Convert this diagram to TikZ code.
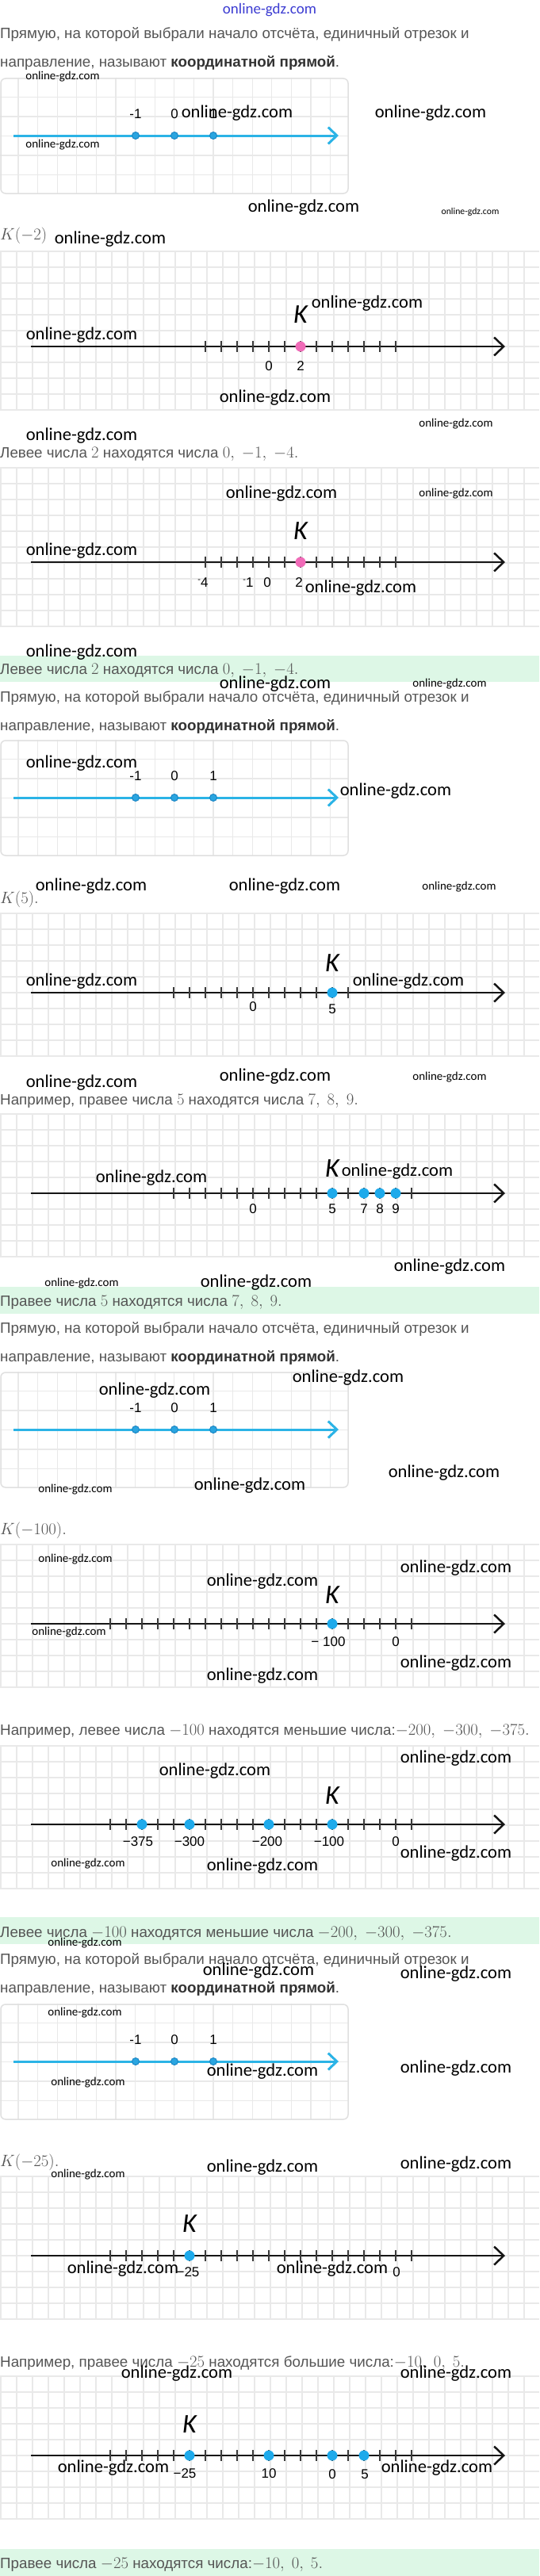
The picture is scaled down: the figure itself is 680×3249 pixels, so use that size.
\documentclass[tikz,border=0pt]{standalone}
\usepackage{fontspec}
\setmainfont{Liberation Sans}
\newfontfamily\wmfont{Carlito}
\usetikzlibrary{arrows.meta}
\definecolor{txtc}{HTML}{555555}
\definecolor{boldc}{HTML}{333333}
\definecolor{gridc}{HTML}{E9E9E9}
\definecolor{sbord}{HTML}{E0E0E0}
\definecolor{bluax}{HTML}{2BB3E6}
\definecolor{bdfill}{HTML}{2AA5E0}
\definecolor{bddraw}{HTML}{1C86C4}
\definecolor{ptblue}{HTML}{1EAAEB}
\definecolor{ptpink}{HTML}{F06BB8}
\definecolor{bandc}{HTML}{DDF7E6}
\definecolor{tickc}{HTML}{3A3A3A}
\definecolor{axc}{HTML}{151515}
\definecolor{hdrc}{HTML}{3C3CD2}
\newcommand\mth[1]{{\fontsize{20}{24}\selectfont$#1$}}
\newcommand\kmth[1]{{\fontsize{21.5}{24}\selectfont$#1$}}
\newcommand\rmin{\raisebox{0.35em}{\fontsize{11}{11}\selectfont -}}
\tikzset{
 sgrid/.style={draw=gridc, line width=1.2pt},
 bgrid/.style={draw=gridc, line width=1.2pt},
 sbox/.style={draw=sbord, line width=1.5pt, rounded corners=6pt},
 blueaxis/.style={draw=bluax, line width=3pt, -{Straight Barb[length=11pt,width=21pt]}},
 baxis/.style={draw=axc, line width=2.5pt, -{Straight Barb[length=12pt,width=23pt]}},
 tk/.style={draw=tickc, line width=2.5pt},
 bdot/.style={circle, fill=bdfill, draw=bddraw, line width=1pt, minimum size=9pt, inner sep=0pt},
 pdot/.style={circle, fill=#1, minimum size=13pt, inner sep=0pt},
 lbl/.style={font=\fontsize{17}{20}\selectfont, text=black, inner sep=0pt},
 klbl/.style={font=\wmfont\itshape\fontsize{34}{36}\selectfont, text=black, inner sep=0pt},
 body/.style={font=\fontsize{18.8}{21}\selectfont, text=txtc, anchor=base west, inner sep=0pt},
 band/.style={fill=bandc},
 wmL/.style={font=\wmfont\fontsize{22.6}{24}\selectfont, text=black, inner sep=0pt},
 wmM/.style={font=\wmfont\fontsize{15}{16}\selectfont, text=black, inner sep=0pt},
 wmS/.style={font=\wmfont\fontsize{11.7}{13}\selectfont, text=black, inner sep=0pt},
}
\newcommand\smallbox[2]{%
\begin{scope}[shift={(0,#1)}]
\foreach \i in {0,...,16} \draw[sgrid] ({23+24.6*\i},0) -- ({23+24.6*\i},146);
\foreach \j in {1,...,5} \draw[sgrid] (0,{24.5*\j}) -- (439,{24.5*\j});
\draw[sbox] (1,1) rectangle (439,146);
\coordinate (#2s) at (17,73);
\coordinate (#2e) at (427,73);
\draw[blueaxis] (#2s) -- (#2e);
\node[bdot] (#2m) at (171,73) {};
\node[bdot] (#2z) at (220,73) {};
\node[bdot] (#2p) at (269,73) {};
\node[lbl] (#2lm) at (171,46) {-1};
\node[lbl] (#2lz) at (220,46) {0};
\node[lbl] (#2lp) at (269,46) {1};
\end{scope}}
\newcommand\biggrid[2]{%
\foreach \j in {0,...,#2} \draw[bgrid] (0,{#1+20*\j}) -- (680,{#1+20*\j});
\foreach \i in {0,...,33} \draw[bgrid] ({1+20*\i},#1) -- ({1+20*\i},{#1+20*#2});}
\newcommand\bigaxis[3]{%
\coordinate (#1s) at (39,#2);
\coordinate (#1e) at (637,#2);
\draw[baxis] (#1s) -- (#1e);
\foreach \x in {#3} \draw[tk] (\x,{#2-7}) -- (\x,{#2+7});}
\newcommand\wm[4]{\node[wm#4] (#1) at (#2,#3) {online-gdz.com};}
\begin{document}
\begin{tikzpicture}[x=1pt,y=-1pt]
\useasboundingbox (0,0) rectangle (680,3249);
\fill[white] (0,0) rectangle (680,3249);
% bands
\fill[band] (0,827) rectangle (680,860);
\fill[band] (0,1623) rectangle (680,1657);
\fill[band] (0,2418) rectangle (680,2452);
\fill[band] (0,3215) rectangle (680,3249);
% header
\node[font=\wmfont\fontsize{19}{20}\selectfont, text=hdrc, inner sep=0pt] (hdr) at (340,13) {online-gdz.com};
% small boxes
\smallbox{98}{sa}
\smallbox{933}{sb}
\smallbox{1730}{sc}
\smallbox{2527}{sd}
% G2
\biggrid{317}{10}
\bigaxis{axb}{437}{259,279,...,499}
\node[pdot=ptpink] (p2) at (379,437) {};
\node[lbl] (l2a) at (339,462) {0};
\node[lbl] (l2b) at (379,462) {2};
\node[klbl] (K2) at (379,397) {K};
% G3
\biggrid{590}{10}
\bigaxis{axc}{709}{259,279,...,499}
\node[pdot=ptpink] (p3) at (379,709) {};
\node[lbl] (l3a) at (256,735) {\rmin4};
\node[lbl] (l3b) at (313,735) {\rmin1};
\node[lbl] (l3c) at (337,735) {0};
\node[lbl] (l3d) at (377,735) {2};
\node[klbl] (K3) at (379,670) {K};
% G5
\biggrid{1152}{9}
\bigaxis{axe}{1252}{219,239,...,439}
\node[pdot=ptblue] (p5) at (419,1252) {};
\node[lbl] (l5a) at (319,1270) {0};
\node[lbl] (l5b) at (419,1273) {5};
\node[klbl] (K5) at (419,1215) {K};
% G6
\biggrid{1405}{9}
\bigaxis{axf}{1505}{219,239,...,519}
\node[pdot=ptblue] (p6a) at (419,1505) {};
\node[pdot=ptblue] (p6b) at (459,1505) {};
\node[pdot=ptblue] (p6c) at (479,1505) {};
\node[pdot=ptblue] (p6d) at (499,1505) {};
\node[lbl] (l6a) at (319,1525) {0};
\node[lbl] (l6b) at (419,1525) {5};
\node[lbl] (l6c) at (459,1525) {7};
\node[lbl] (l6d) at (479,1525) {8};
\node[lbl] (l6e) at (499,1525) {9};
\node[klbl] (K6) at (419,1474) {K};
% G8
\biggrid{1948}{9}
\bigaxis{axh}{2048}{139,159,...,519}
\node[pdot=ptblue] (p8) at (419,2048) {};
\node[lbl] (l8a) at (414,2071) {− 100};
\node[lbl] (l8b) at (499,2071) {0};
\node[klbl] (K8) at (419,2012) {K};
% G9
\biggrid{2202}{9}
\bigaxis{axi}{2301}{139,159,...,519}
\node[pdot=ptblue] (p9a) at (179,2301) {};
\node[pdot=ptblue] (p9b) at (239,2301) {};
\node[pdot=ptblue] (p9c) at (339,2301) {};
\node[pdot=ptblue] (p9d) at (419,2301) {};
\node[lbl] (l9a) at (174,2323) {−375};
\node[lbl] (l9b) at (239,2323) {−300};
\node[lbl] (l9c) at (337,2323) {−200};
\node[lbl] (l9d) at (415,2323) {−100};
\node[lbl] (l9e) at (499,2323) {0};
\node[klbl] (K9) at (419,2265) {K};
% G10
\biggrid{2745}{9}
\bigaxis{axj}{2845}{139,159,...,519}
\node[pdot=ptblue] (p10) at (239,2845) {};
\node[lbl] (l10a) at (237,2866) {−25};
\node[lbl] (l10b) at (500,2866) {0};
\node[klbl] (K10) at (239,2805) {K};
% G11
\biggrid{2997}{9}
\bigaxis{axk}{3097}{139,159,...,519}
\node[pdot=ptblue] (p11a) at (239,3097) {};
\node[pdot=ptblue] (p11b) at (339,3097) {};
\node[pdot=ptblue] (p11c) at (419,3097) {};
\node[pdot=ptblue] (p11d) at (459,3097) {};
\node[lbl] (l11a) at (233,3120) {−25};
\node[lbl] (l11b) at (339,3120) {10};
\node[lbl] (l11c) at (419,3121) {0};
\node[lbl] (l11d) at (460,3121) {5};
\node[klbl] (K11) at (239,3058) {K};
% texts
\node[body] (t1a) at (0,49) {Прямую, на которой выбрали начало отсчёта, единичный отрезок и};
\node[body] (t1b) at (0,85) {направление, называют \textbf{\color{boldc}координатной прямой}.};
\node[body] (k1) at (0,302) {\kmth{K(-2)}};
\node[body] (t2) at (0,577) {Левее числа \mth{2} находятся числа \mth{0,\ -1,\ -4.}};
\node[body] (t3) at (0,850) {Левее числа \mth{2} находятся числа \mth{0,\ -1,\ -4.}};
\node[body] (t4a) at (0,885) {Прямую, на которой выбрали начало отсчёта, единичный отрезок и};
\node[body] (t4b) at (0,921) {направление, называют \textbf{\color{boldc}координатной прямой}.};
\node[body] (k2) at (0,1139) {\kmth{K(5).}};
\node[body] (t5) at (0,1393) {Например, правее числа \mth{5} находятся числа \mth{7,\ 8,\ 9.}};
\node[body] (t6) at (0,1647) {Правее числа \mth{5} находятся числа \mth{7,\ 8,\ 9.}};
\node[body] (t6a) at (0,1681) {Прямую, на которой выбрали начало отсчёта, единичный отрезок и};
\node[body] (t6b) at (0,1717) {направление, называют \textbf{\color{boldc}координатной прямой}.};
\node[body] (k3) at (0,1935) {\kmth{K(-100).}};
\node[body] (t8) at (0,2188) {Например, левее числа \mth{-100} находятся меньшие числа:\mth{-200,\ -300,\ -375.}};
\node[body] (t9) at (0,2443) {Левее числа \mth{-100} находятся меньшие числа \mth{-200,\ -300,\ -375.}};
\node[body] (t9a) at (0,2477) {Прямую, на которой выбрали начало отсчёта, единичный отрезок и};
\node[body] (t9b) at (0,2513) {направление, называют \textbf{\color{boldc}координатной прямой}.};
\node[body] (k4) at (0,2732) {\kmth{K(-25).}};
\node[body] (t11) at (0,2985) {Например, правее числа \mth{-25} находятся большие числа:\mth{-10,\ 0,\ 5.}};
\node[body] (t12) at (0,3239) {Правее числа \mth{-25} находятся числа:\mth{-10,\ 0,\ 5.}};
% watermarks
\wm{w1}{79}{97}{M}
\wm{w2}{299}{143}{L}
\wm{w3}{543}{143}{L}
\wm{w4}{79}{183}{M}
\wm{w5}{383}{262}{L}
\wm{w6}{593}{267}{S}
\wm{w7}{139}{302}{L}
\wm{w8}{463}{383}{L}
\wm{w9}{103}{423}{L}
\wm{w10}{347}{502}{L}
\wm{w11}{575}{535}{M}
\wm{w12}{103}{550}{L}
\wm{w13}{355}{623}{L}
\wm{w14}{575}{623}{M}
\wm{w15}{103}{695}{L}
\wm{w16}{455}{742}{L}
\wm{w17}{103}{823}{L}
\wm{w18}{347}{863}{L}
\wm{w19}{567}{863}{M}
\wm{w20}{103}{963}{L}
\wm{w21}{499}{998}{L}
\wm{w22}{115}{1118}{L}
\wm{w23}{359}{1118}{L}
\wm{w24}{579}{1119}{M}
\wm{w25}{103}{1238}{L}
\wm{w26}{515}{1238}{L}
\wm{w27}{103}{1366}{L}
\wm{w28}{347}{1358}{L}
\wm{w29}{567}{1359}{M}
\wm{w30}{191}{1486}{L}
\wm{w31}{501}{1478}{L}
\wm{w32}{567}{1598}{L}
\wm{w33}{103}{1619}{M}
\wm{w34}{323}{1618}{L}
\wm{w35}{439}{1738}{L}
\wm{w36}{195}{1754}{L}
\wm{w37}{560}{1858}{L}
\wm{w38}{315}{1874}{L}
\wm{w39}{95}{1879}{M}
\wm{w40}{95}{1967}{M}
\wm{w41}{331}{1995}{L}
\wm{w42}{575}{1978}{L}
\wm{w43}{87}{2059}{M}
\wm{w44}{575}{2098}{L}
\wm{w45}{331}{2114}{L}
\wm{w46}{575}{2218}{L}
\wm{w47}{271}{2234}{L}
\wm{w48}{575}{2338}{L}
\wm{w49}{111}{2351}{M}
\wm{w50}{331}{2354}{L}
\wm{w51}{107}{2451}{M}
\wm{w52}{326}{2486}{L}
\wm{w53}{575}{2490}{L}
\wm{w54}{107}{2539}{M}
\wm{w55}{331}{2613}{L}
\wm{w56}{575}{2609}{L}
\wm{w57}{111}{2627}{M}
\wm{w58}{331}{2734}{L}
\wm{w59}{575}{2730}{L}
\wm{w60}{111}{2743}{M}
\wm{w61}{155}{2862}{L}
\wm{w62}{419}{2862}{L}
\wm{w63}{223}{2994}{L}
\wm{w64}{575}{2994}{L}
\wm{w65}{143}{3113}{L}
\wm{w66}{551}{3113}{L}
\end{tikzpicture}
\end{document}
